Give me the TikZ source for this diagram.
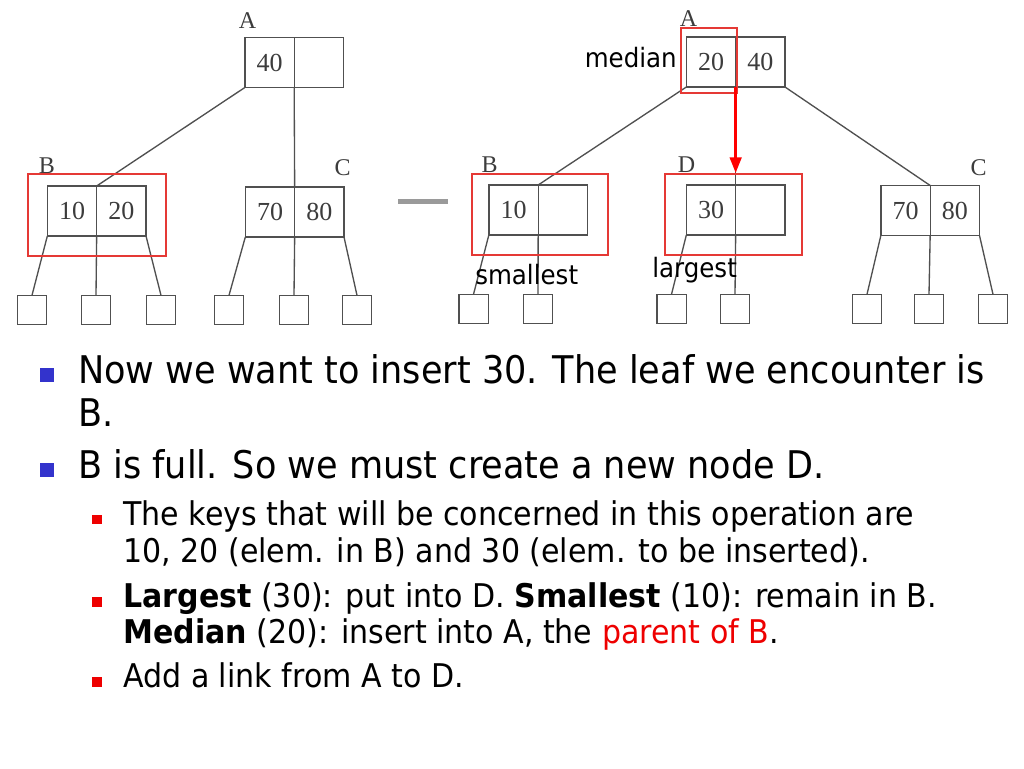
\documentclass[tikz,border=0pt]{standalone}
\usepackage{fontspec}
\usepackage{tikz}
\usetikzlibrary{arrows.meta,positioning}
\setmainfont{Liberation Serif}
\newfontfamily\slidefont{DejaVu Sans}[FakeStretch=0.92]
\definecolor{inkgray}{HTML}{3C3C3C}
\definecolor{linegray}{HTML}{505050}
\definecolor{markred}{HTML}{E53935}
\definecolor{arrowred}{HTML}{FF0000}
\definecolor{bulletblue}{HTML}{3333CC}
\definecolor{bulletred}{HTML}{EE0000}
\definecolor{dashgray}{HTML}{9A9A9A}
\tikzset{
  cell/.style={draw=linegray, line width=1pt, minimum width=37pt,
    minimum height=37.5pt, inner sep=0pt, outer sep=0pt,
    font=\fontsize{19.5}{19.5}\selectfont, text=inkgray},
  leaf/.style={draw=linegray, line width=1pt, minimum size=22pt,
    inner sep=0pt, outer sep=0pt},
  link/.style={linegray, line width=1pt},
  tag/.style={font=\fontsize{18}{18}\selectfont, text=inkgray, inner sep=0pt},
  hilite/.style={draw=markred, line width=1.1pt, inner sep=0pt},
  push/.style={arrowred, line width=2.6pt, -{Triangle[length=12pt,width=8.5pt]}},
  note/.style={font=\slidefont\fontsize{20}{20}\selectfont, inner sep=0pt},
  bigline/.style={font=\slidefont\fontsize{28.6}{28.6}\selectfont,
    anchor=base west, inner sep=0pt},
  subline/.style={font=\slidefont\fontsize{24.5}{24.5}\selectfont,
    anchor=base west, inner sep=0pt},
  bigdot/.style={fill=bulletblue, minimum size=10.5pt, inner sep=0pt},
  subdot/.style={fill=bulletred, minimum width=7.5pt, minimum height=7pt, inner sep=0pt},
}

\begin{document}
\begin{tikzpicture}[x=0.75pt,y=-0.75pt]
  \fill[white] (0,0) rectangle (1024,768);
  \useasboundingbox (0,0) rectangle (1024,768);

  % before: B is full
  \node[cell] (lAl) at (269.5,62.5) {40};
  \node[cell, right=0pt of lAl] (lAr) {};
  \node[cell] (lBl) at (72,211) {10};
  \node[cell, right=0pt of lBl] (lBr) {20};
  \node[cell] (lCl) at (270,212) {70};
  \node[cell, right=0pt of lCl] (lCr) {80};
  \foreach \i/\x in {1/32,2/96,3/161,4/229,5/294,6/357}
    \node[leaf] (lf\i) at (\x,310) {};
  \node[tag] (lA) at (247.5,20.5) {A};
  \node[tag] (lB) at (47,165.5) {B};
  \node[tag] (lC) at (342.5,168) {C};
  \draw[link] (lAl.south west) -- (lBl.north east);
  \draw[link] (lAl.south east) -- (lCl.north east);
  \draw[link] (lCl.south east) -- (lf5.north);
  \draw[link] (lBl.south west) -- (lf1.north);
  \draw[link] (lBl.south east) -- (lf2.north);
  \draw[link] (lBr.south east) -- (lf3.north);
  \draw[link] (lCl.south west) -- (lf4.north);
  \draw[link] (lCr.south east) -- (lf6.north);
  \node[hilite, minimum width=103.5pt, minimum height=61.5pt] (lBbox) at (97,215) {};

  \node[fill=dashgray, minimum width=37.5pt, minimum height=3.75pt, inner sep=0pt] (gap) at (423,201.5) {};

  % after: B split, D created
  \node[cell] (rAl) at (711,62) {20};
  \node[cell, right=0pt of rAl] (rAr) {40};
  \node[cell] (rBl) at (513.5,210) {10};
  \node[cell, right=0pt of rBl] (rBr) {};
  \node[cell] (rDl) at (711,210) {30};
  \node[cell, right=0pt of rDl] (rDr) {};
  \node[cell] (rCl) at (905.5,210.5) {70};
  \node[cell, right=0pt of rCl] (rCr) {80};
  \foreach \i/\x in {1/473.5,2/538,3/671.5,4/735,5/867,6/929,7/993}
    \node[leaf] (rf\i) at (\x,309) {};
  \node[tag] (rA) at (688.5,18.5) {A};
  \node[tag] (rB) at (489.5,165) {B};
  \node[tag] (rD) at (686.5,165) {D};
  \node[tag] (rC) at (978.5,168) {C};
  \draw[link] (rAl.south west) -- (rBl.north east);
  \draw[link] (rAl.south east) -- (rDl.north east);
  \draw[link] (rAr.south east) -- (rCl.north east);
  \draw[link] (rBl.south west) -- (rf1.north);
  \draw[link] (rBl.south east) -- (rf2.north);
  \draw[link] (rDl.south west) -- (rf3.north);
  \draw[link] (rDl.south east) -- (rf4.north);
  \draw[link] (rCl.south west) -- (rf5.north);
  \draw[link] (rCl.south east) -- (rf6.north);
  \draw[link] (rCr.south east) -- (rf7.north);
  \node[hilite, minimum width=42pt, minimum height=48.75pt] (rmed) at (709,60.5) {};
  \node[hilite, minimum width=102pt, minimum height=60.75pt] (rBbox) at (540,214.5) {};
  \node[hilite, minimum width=102.75pt, minimum height=60.75pt] (rDbox) at (733.5,214.5) {};
  \draw[push] (rAl.south east) -- (rAl.south east |- rDbox.north);
  \node[note, anchor=base east] (median) at (677,67) {median};
  \node[note, anchor=base west] (smallest) at (475,284) {smallest};
  \node[note, anchor=base west] (largest) at (652,277) {largest};

  % bullets
  \node[bigdot] (b1) at (47,375) {};
  \node[bigline] (t1) at (78,383) {Now we want to insert 30. The leaf we encounter is};
  \node[bigline] (t2) at (78,426) {B.};
  \node[bigdot] (b2) at (47,470) {};
  \node[bigline] (t3) at (78,478) {B is full. So we must create a new node D.};
  \node[subdot] (b3) at (97,519.5) {};
  \node[subline] (t4) at (123,525) {The keys that will be concerned in this operation are};
  \node[subline] (t5) at (123,562) {10, 20 (elem. in B) and 30 (elem. to be inserted).};
  \node[subdot] (b4) at (97,602) {};
  \node[subline] (t6) at (123,607) {\textbf{Largest} (30): put into D. \textbf{Smallest} (10): remain in B.};
  \node[subline] (t7) at (123,643) {\textbf{Median} (20): insert into A, the \textcolor{bulletred}{parent of B}.};
  \node[subdot] (b5) at (97,682) {};
  \node[subline] (t8) at (123,687.5) {Add a link from A to D.};
\end{tikzpicture}
\end{document}
